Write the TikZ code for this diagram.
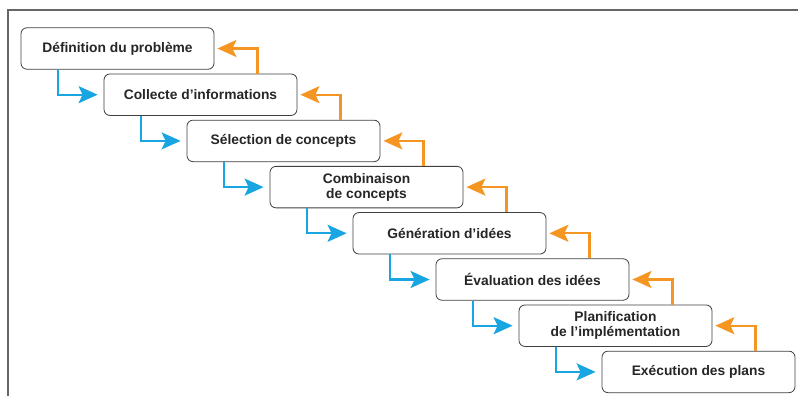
\documentclass[tikz,border=0pt]{standalone}
\usepackage{fontspec}
\setmainfont{Liberation Sans}
\usetikzlibrary{arrows.meta}
\definecolor{stepblue}{RGB}{25,165,225}
\definecolor{steporange}{RGB}{245,150,35}
\tikzset{
  stepbox/.style={draw=black!75, line width=0.8pt, rounded corners=6pt, fill=white,
    minimum width=193pt, minimum height=41.5pt, align=center, text=black!85,
    font=\fontsize{13.8}{15}\selectfont\bfseries, inner sep=0pt},
  down/.style={stepblue, line width=2.2pt, shorten >=6pt, -{Stealth[length=19pt, width=17pt, inset=4pt]}},
  back/.style={steporange, line width=2.2pt, shorten >=3pt, -{Stealth[length=19pt, width=17pt, inset=4pt]}}
}
\begin{document}
\begin{tikzpicture}[x=1pt, y=-1pt]
  \useasboundingbox (0,0) rectangle (798,396);
  \draw[black!60, line width=1.3pt] (8,396) -- (8,10) -- (798,10);
  \node[stepbox] (b1) at(117.5+0*83,48.5+0*46.2){Définition du problème};
  \node[stepbox] (b2) at(117.5+1*83,48.5+1*46.2){Collecte d’informations};
  \node[stepbox] (b3) at(117.5+2*83,48.5+2*46.2){Sélection de concepts};
  \node[stepbox] (b4) at(117.5+3*83,48.5+3*46.2){Combinaison\\de concepts};
  \node[stepbox] (b5) at(117.5+4*83,48.5+4*46.2){Génération d’idées};
  \node[stepbox] (b6) at(117.5+5*83,48.5+5*46.2){Évaluation des idées};
  \node[stepbox] (b7) at(117.5+6*83,48.5+6*46.2){Planification\\de l’implémentation};
  \node[stepbox] (b8) at(117.5+7*83,48.5+7*46.2){Exécution des plans};
  \draw[down] ([xshift=37pt]b1.south west) |- (b2.west);
  \draw[down] ([xshift=37pt]b2.south west) |- (b3.west);
  \draw[down] ([xshift=37pt]b3.south west) |- (b4.west);
  \draw[down] ([xshift=37pt]b4.south west) |- (b5.west);
  \draw[down] ([xshift=37pt]b5.south west) |- (b6.west);
  \draw[down] ([xshift=37pt]b6.south west) |- (b7.west);
  \draw[down] ([xshift=37pt]b7.south west) |- (b8.west);
  \draw[back] ([xshift=-40pt]b2.north east) |- (b1.east);
  \draw[back] ([xshift=-40pt]b3.north east) |- (b2.east);
  \draw[back] ([xshift=-40pt]b4.north east) |- (b3.east);
  \draw[back] ([xshift=-40pt]b5.north east) |- (b4.east);
  \draw[back] ([xshift=-40pt]b6.north east) |- (b5.east);
  \draw[back] ([xshift=-40pt]b7.north east) |- (b6.east);
  \draw[back] ([xshift=-40pt]b8.north east) |- (b7.east);
\end{tikzpicture}
\end{document}
